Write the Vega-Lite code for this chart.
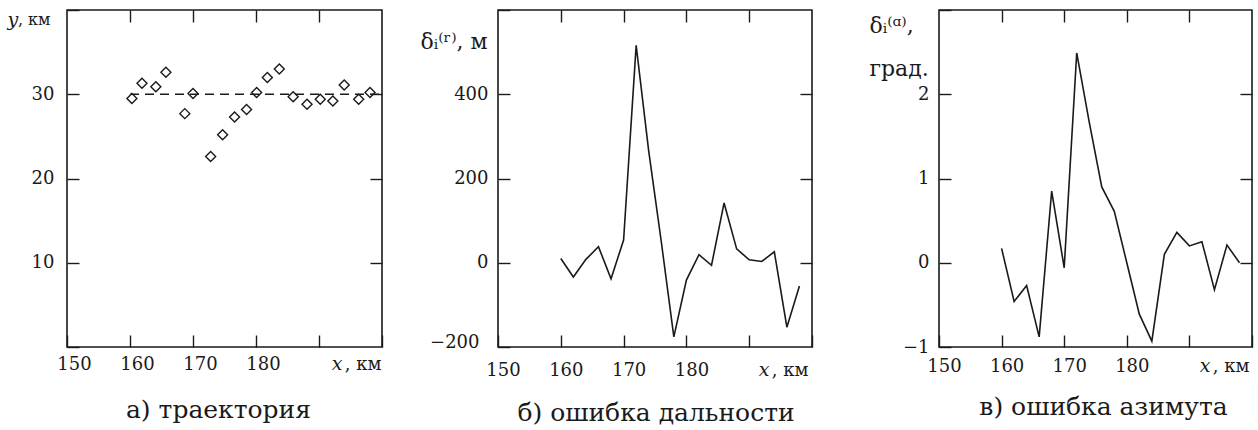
{
  "$schema": "https://vega.github.io/schema/vega-lite/v6.json",
  "background": "white",
  "padding": {"left": 6, "top": 0, "right": 0, "bottom": 0},
  "config": {
    "font": "DejaVu Serif",
    "view": {"stroke": "#1a1a1a", "strokeWidth": 1.6},
    "axis": {"domain": false, "grid": false, "tickSize": -12, "tickWidth": 1.4, "tickColor": "#1a1a1a", "labelFont": "DejaVu Serif", "labelFontSize": 18, "labelColor": "#1a1a1a", "labelOverlap": false, "labelFlush": false, "titleFont": "DejaVu Serif", "titleFontWeight": "normal", "titleFontSize": 22, "titleColor": "#1a1a1a"},
    "title": {"font": "DejaVu Serif", "fontSize": 25, "fontWeight": "normal", "color": "#1a1a1a"}
  },
  "datasets": {
    "traj": [
      {"x": 160.3, "y": 29.5}, {"x": 161.9, "y": 31.3}, {"x": 164.1, "y": 30.9}, {"x": 165.7, "y": 32.6},
      {"x": 168.7, "y": 27.7}, {"x": 170.0, "y": 30.1}, {"x": 172.8, "y": 22.6}, {"x": 174.7, "y": 25.2},
      {"x": 176.6, "y": 27.3}, {"x": 178.5, "y": 28.2}, {"x": 180.1, "y": 30.2}, {"x": 181.8, "y": 32.0},
      {"x": 183.7, "y": 33.0}, {"x": 185.9, "y": 29.7}, {"x": 188.1, "y": 28.8}, {"x": 190.2, "y": 29.4},
      {"x": 192.2, "y": 29.2}, {"x": 194.0, "y": 31.1}, {"x": 196.3, "y": 29.4}, {"x": 198.1, "y": 30.2}
    ],
    "ref": [{"x": 160, "x2": 200, "y": 30}],
    "range": [
      {"x": 160, "d": 10}, {"x": 162, "d": -34}, {"x": 164, "d": 8}, {"x": 166, "d": 38},
      {"x": 168, "d": -38}, {"x": 170, "d": 54}, {"x": 172, "d": 516}, {"x": 174, "d": 265},
      {"x": 176, "d": 50}, {"x": 178, "d": -176}, {"x": 180, "d": -41}, {"x": 182, "d": 19},
      {"x": 184, "d": -6}, {"x": 186, "d": 142}, {"x": 188, "d": 33}, {"x": 190, "d": 7},
      {"x": 192, "d": 3}, {"x": 194, "d": 26}, {"x": 196, "d": -153}, {"x": 198, "d": -55}
    ],
    "azim": [
      {"x": 160, "d": 0.17}, {"x": 162, "d": -0.46}, {"x": 164, "d": -0.27}, {"x": 166, "d": -0.88},
      {"x": 168, "d": 0.85}, {"x": 170, "d": -0.06}, {"x": 172, "d": 2.49}, {"x": 174, "d": 1.67},
      {"x": 176, "d": 0.90}, {"x": 178, "d": 0.61}, {"x": 180, "d": 0.0}, {"x": 182, "d": -0.61},
      {"x": 184, "d": -0.93}, {"x": 186, "d": 0.10}, {"x": 188, "d": 0.36}, {"x": 190, "d": 0.20},
      {"x": 192, "d": 0.25}, {"x": 194, "d": -0.32}, {"x": 196, "d": 0.21}, {"x": 198, "d": 0.0}
    ]
  },
  "bounds": "flush",
  "spacing": 116,
  "hconcat": [
    {
      "width": 315,
      "height": 337,
      "title": {"text": "а) траектория", "orient": "bottom", "offset": 25, "dx": -6},
      "layer": [
        {
          "data": {"name": "traj"},
          "mark": {"type": "point", "shape": "diamond", "filled": false, "stroke": "#1a1a1a", "strokeWidth": 1.4, "size": 100, "opacity": 1},
          "encoding": {
            "x": {"field": "x", "type": "quantitative", "scale": {"domain": [150, 200], "nice": false, "zero": false},
              "axis": {"orient": "bottom", "values": [150, 160, 170, 180, 190, 200],
                "labelExpr": "datum.value == 190 ? '' : datum.value == 200 ? ', км' : datum.label",
                "labelAlign": {"condition": {"test": "datum.value == 200", "value": "right"}, "value": "center"},
                "labelOffset": {"condition": {"test": "datum.value == 200", "value": -1}, "value": 7},
                "labelPadding": 20,
                "title": "x", "titleFontStyle": "italic", "titleFontSize": 19, "titleAlign": "right", "titleBaseline": "alphabetic", "titleAnchor": "start", "titleX": 275, "titleY": 22}},
            "y": {"field": "y", "type": "quantitative", "scale": {"domain": [0, 40], "nice": false, "zero": false},
              "axis": {"orient": "left", "values": [0, 10, 20, 30, 40],
                "labelExpr": "datum.value == 0 ? '' : datum.value == 40 ? ', км' : datum.label",
                "labelFontSize": {"condition": {"test": "datum.value == 40", "value": 16}, "value": 18},
                "labelOffset": {"condition": {"test": "datum.value == 40", "value": 9}, "value": 0},
                "labelPadding": {"condition": {"test": "datum.value == 40", "value": 29}, "value": 25},
                "title": "y", "titleFontStyle": "italic", "titleFontSize": 19, "titleAngle": 0, "titleAlign": "left", "titleBaseline": "alphabetic", "titleAnchor": "start", "titleX": -60, "titleY": 15}}
          }
        },
        {
          "data": {"name": "ref"},
          "mark": {"type": "rule", "stroke": "#1a1a1a", "strokeWidth": 1.3, "strokeDash": [9, 6]},
          "encoding": {
            "x": {"field": "x", "type": "quantitative", "axis": {"orient": "top", "values": [160, 170, 180, 190], "labels": false, "title": null}},
            "x2": {"field": "x2"},
            "y": {"field": "y", "type": "quantitative", "axis": {"orient": "right", "values": [10, 20, 30], "labels": false, "title": null}}
          }
        }
      ]
    },
    {
      "bounds": "flush",
      "spacing": 127,
      "hconcat": [
        {
          "width": 314,
          "height": 337,
          "title": {"text": "б) ошибка дальности", "orient": "bottom", "offset": 22, "dx": 1},
          "data": {"name": "range"},
          "layer": [
            {
              "mark": {"type": "line", "stroke": "#1a1a1a", "strokeWidth": 1.6},
              "encoding": {
                "x": {"field": "x", "type": "quantitative", "scale": {"domain": [150, 200], "nice": false, "zero": false},
                  "axis": {"orient": "bottom", "values": [150, 160, 170, 180, 190, 200],
                    "labelExpr": "datum.value == 190 ? '' : datum.value == 200 ? ', км' : datum.label",
                    "labelAlign": {"condition": {"test": "datum.value == 200", "value": "right"}, "value": "center"},
                    "labelOffset": {"condition": {"test": "datum.value == 200", "value": -4}, "value": 5},
                    "labelPadding": 26,
                    "title": "x", "titleFontStyle": "italic", "titleFontSize": 19, "titleAlign": "right", "titleBaseline": "alphabetic", "titleAnchor": "start", "titleX": 271, "titleY": 28}},
                "y": {"field": "d", "type": "quantitative", "scale": {"domain": [-200, 600], "nice": false, "zero": false},
                  "axis": {"orient": "left", "values": [-200, 0, 200, 400, 600],
                    "labelExpr": "datum.value == 600 ? '' : datum.label",
                    "labelOffset": {"condition": {"test": "datum.value == -200", "value": -5}, "value": 0},
                    "labelPadding": {"condition": {"test": "datum.value == -200", "value": 31}, "value": 22},
                    "title": "δᵢ⁽ʳ⁾, м", "titleAngle": 0, "titleAlign": "left", "titleBaseline": "alphabetic", "titleAnchor": "start", "titleX": -78, "titleY": 38}}
              }
            },
            {
              "mark": {"type": "point", "opacity": 0},
              "encoding": {
                "x": {"field": "x", "type": "quantitative", "axis": {"orient": "top", "values": [160, 170, 180, 190], "labels": false, "title": null}},
                "y": {"field": "d", "type": "quantitative", "axis": {"orient": "right", "values": [0, 200, 400], "labels": false, "title": null}}
              }
            }
          ]
        },
        {
          "width": 313,
          "height": 337,
          "title": {"text": "в) ошибка азимута", "orient": "bottom", "offset": 20, "dx": 8},
          "data": {"name": "azim"},
          "layer": [
            {
              "mark": {"type": "line", "stroke": "#1a1a1a", "strokeWidth": 1.6},
              "encoding": {
                "x": {"field": "x", "type": "quantitative", "scale": {"domain": [150, 200], "nice": false, "zero": false},
                  "axis": {"orient": "bottom", "values": [150, 160, 170, 180, 190, 200],
                    "labelExpr": "datum.value == 190 ? '' : datum.value == 200 ? ', км' : datum.label",
                    "labelAlign": {"condition": {"test": "datum.value == 200", "value": "right"}, "value": "center"},
                    "labelOffset": {"condition": {"test": "datum.value == 200", "value": -3}, "value": 5},
                    "labelPadding": 22,
                    "title": "x", "titleFontStyle": "italic", "titleFontSize": 19, "titleAlign": "right", "titleBaseline": "alphabetic", "titleAnchor": "start", "titleX": 271, "titleY": 24}},
                "y": {"field": "d", "type": "quantitative", "scale": {"domain": [-1, 3], "nice": false, "zero": false},
                  "axis": {"orient": "left", "values": [-1, 0, 1, 2, 3],
                    "labelExpr": "datum.value == 3 ? '' : datum.label",
                    "labelPadding": 22,
                    "title": ["δᵢ⁽ᵅ⁾,", "град."], "titleLineHeight": 43, "titleAngle": 0, "titleAlign": "left", "titleBaseline": "alphabetic", "titleAnchor": "start", "titleX": -70, "titleY": 22}}
              }
            },
            {
              "mark": {"type": "point", "opacity": 0},
              "encoding": {
                "x": {"field": "x", "type": "quantitative", "axis": {"orient": "top", "values": [160, 170, 180, 190], "labels": false, "title": null}},
                "y": {"field": "d", "type": "quantitative", "axis": {"orient": "right", "values": [0, 1, 2], "labels": false, "title": null}}
              }
            }
          ]
        }
      ]
    }
  ]
}
